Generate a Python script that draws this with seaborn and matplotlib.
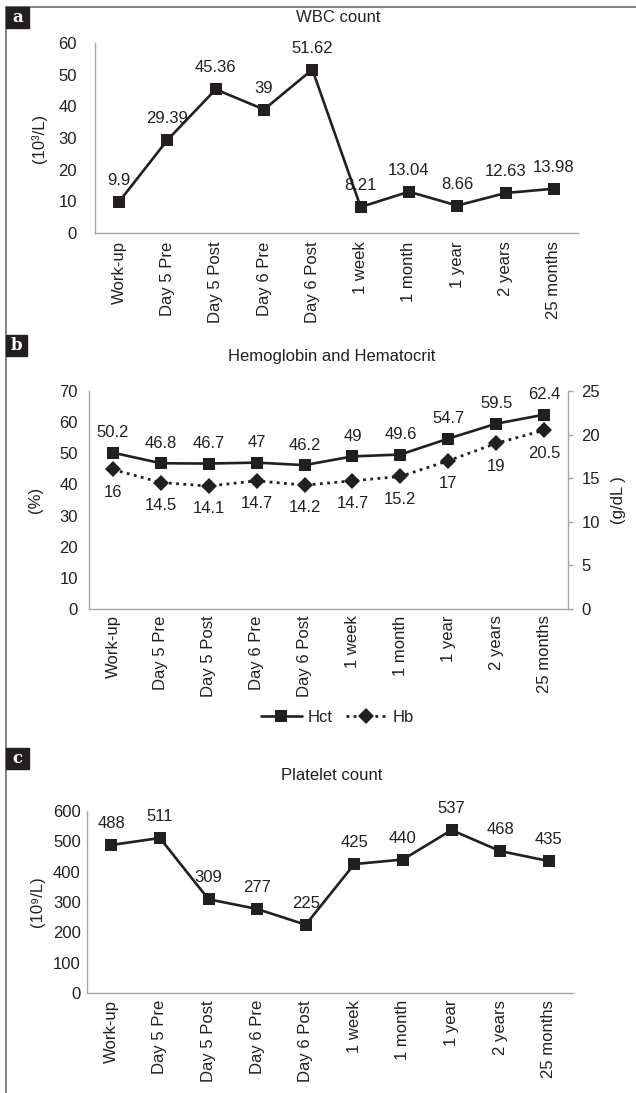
import numpy as np
import pandas as pd
import matplotlib
matplotlib.use('Agg')
import matplotlib.pyplot as plt
import seaborn as sns
from matplotlib.lines import Line2D
from matplotlib.patches import Rectangle

# data
timepoints = ['Work-up', 'Day 5 Pre', 'Day 5 Post', 'Day 6 Pre', 'Day 6 Post',
              '1 week', '1 month', '1 year', '2 years', '25 months']
wbc = [9.9, 29.39, 45.36, 39, 51.62, 8.21, 13.04, 8.66, 12.63, 13.98]
hct = [50.2, 46.8, 46.7, 47, 46.2, 49, 49.6, 54.7, 59.5, 62.4]
hb = [16, 14.5, 14.1, 14.7, 14.2, 14.7, 15.2, 17, 19, 20.5]
plt_count = [488, 511, 309, 277, 225, 425, 440, 537, 468, 435]

sns.set_style('white')
plt.rcParams['font.family'] = ['Liberation Sans', 'DejaVu Sans']
FS = 12
plt.rcParams['font.size'] = FS

INK = '#231f20'
AXIS = '#a6a6a6'
W, H = 636, 1093

df = pd.DataFrame({'time': timepoints, 'wbc': wbc, 'hct': hct,
                   'hb': hb, 'plt': plt_count})

fig = plt.figure(figsize=(W / 100, H / 100), dpi=100)


def box(x0, y0, x1, y1):
    return [x0 / W, 1 - y1 / H, (x1 - x0) / W, (y1 - y0) / H]


def style_axis(ax, ypad, xpad):
    for s in ['top', 'right']:
        ax.spines[s].set_visible(False)
    for s in ['left', 'bottom']:
        ax.spines[s].set_color(AXIS)
        ax.spines[s].set_linewidth(1.0)
    ax.set_xlim(-0.5, len(timepoints) - 0.5)
    ax.tick_params(axis='y', length=0, pad=ypad, colors=INK, labelsize=FS)
    ax.tick_params(axis='x', length=0, pad=xpad, colors=INK, labelsize=FS,
                   labelrotation=90)
    ax.set_xlabel('')


def label_points(ax, values, dy, va):
    for i, v in enumerate(values):
        ax.annotate(f'{v:g}', (i, v), xytext=(0, dy), textcoords='offset points',
                    ha='center', va=va, color=INK, fontsize=FS)


def panel_tag(letter, x0, y0, x1, y1):
    fig.add_artist(Rectangle((x0 / W, 1 - y1 / H), (x1 - x0) / W, (y1 - y0) / H,
                             transform=fig.transFigure, color=INK, zorder=5))
    fig.text((x0 + x1) / 2 / W, 1 - (y0 + y1) / 2 / H, letter, color='white',
             fontsize=12, fontweight='bold', family='DejaVu Serif',
             ha='center', va='center', zorder=6)


# frame lines
fig.add_artist(Line2D([6 / W, 1], [1 - 7 / H, 1 - 7 / H], transform=fig.transFigure,
                      color='#6d6d6d', lw=1.2))
fig.add_artist(Line2D([6 / W, 6 / W], [0, 1 - 7 / H], transform=fig.transFigure,
                      color='#6d6d6d', lw=1.2))

line_kw = dict(color=INK, linewidth=1.9, markersize=8.5, markeredgewidth=0, sort=False)

# a: WBC count
ax_a = fig.add_axes(box(95, 43, 578, 233))
sns.lineplot(data=df, x='time', y='wbc', marker='s', ax=ax_a, **line_kw)
style_axis(ax_a, 13, 6)
ax_a.set_ylim(0, 60)
ax_a.set_yticks(range(0, 61, 10))
ax_a.set_ylabel('(10³/L)', color=INK, fontsize=FS)
ax_a.yaxis.set_label_coords((47 - 95) / 483, 0.5)
label_points(ax_a, wbc, 10, 'bottom')
fig.text(338 / W, 1 - 17 / H, 'WBC count', ha='center', va='center', color=INK, fontsize=FS)
panel_tag('a', 6, 7, 29, 28)

# b: Hemoglobin and Hematocrit
ax_b = fig.add_axes(box(89, 391, 568, 609))
sns.lineplot(data=df, x='time', y='hct', marker='s', ax=ax_b, **line_kw)
style_axis(ax_b, 8, 4.5)
ax_b.set_ylim(0, 70)
ax_b.set_yticks(range(0, 71, 10))
ax_b.set_ylabel('(%)', color=INK, fontsize=FS)
ax_b.yaxis.set_label_coords((43 - 89) / 479, 0.5)
label_points(ax_b, hct, 9, 'bottom')

ax_b2 = ax_b.twinx()
sns.lineplot(data=df, x='time', y='hb', marker='D', ax=ax_b2, color=INK,
             linewidth=2.0, linestyle=(0, (1, 1.6)), markersize=8,
             markeredgewidth=0, sort=False)
for s in ['top', 'left', 'bottom']:
    ax_b2.spines[s].set_visible(False)
ax_b2.spines['right'].set_color(AXIS)
ax_b2.spines['right'].set_linewidth(1.0)
ax_b2.set_ylim(0, 25)
ax_b2.set_yticks(range(0, 26, 5))
ax_b2.tick_params(axis='y', length=3.6, width=1.0, color=AXIS, pad=6,
                  labelcolor=INK, labelsize=FS)
ax_b2.set_xlim(-0.5, len(timepoints) - 0.5)
ax_b2.set_ylabel('(g/dL )', color=INK, fontsize=FS)
ax_b2.yaxis.set_label_coords((611 - 89) / 479, 0.5)
label_points(ax_b2, hb, -11, 'top')
fig.text(332 / W, 1 - 357 / H, 'Hemoglobin and Hematocrit', ha='center',
         va='center', color=INK, fontsize=FS)
panel_tag('b', 6, 335, 27, 356)

handles = [Line2D([], [], color=INK, lw=1.9, marker='s', markersize=8.5, markeredgewidth=0),
           Line2D([], [], color=INK, lw=2.0, ls=(0, (1, 1.6)), marker='D', markersize=8,
                  markeredgewidth=0)]
fig.legend(handles, ['Hct', 'Hb'], loc='center', bbox_to_anchor=(337 / W, 1 - 717 / H),
           ncol=2, frameon=False, handlelength=2.5, handletextpad=0.3,
           columnspacing=0.8, fontsize=FS, labelcolor=INK)

# c: Platelet count
ax_c = fig.add_axes(box(87, 811, 573, 993))
sns.lineplot(data=df, x='time', y='plt', marker='s', ax=ax_c, **line_kw)
style_axis(ax_c, 4.5, 5)
ax_c.set_ylim(0, 600)
ax_c.set_yticks(range(0, 601, 100))
ax_c.set_ylabel('(10⁹/L)', color=INK, fontsize=FS)
ax_c.yaxis.set_label_coords((45 - 87) / 486, 0.5)
label_points(ax_c, plt_count, 10, 'bottom')
fig.text(332 / W, 1 - 776 / H, 'Platelet count', ha='center', va='center',
         color=INK, fontsize=FS)
panel_tag('c', 6, 748, 29, 769)

fig.savefig('out.png', dpi=100)
